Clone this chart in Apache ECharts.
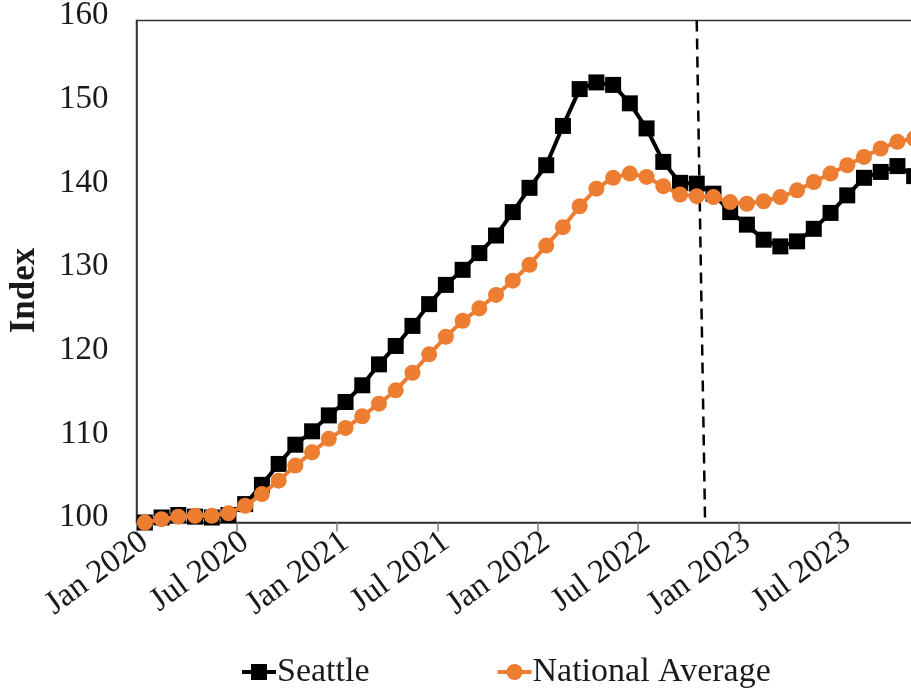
<!DOCTYPE html>
<html>
<head>
<meta charset="utf-8">
<script src="https://cdn.jsdelivr.net/npm/echarts@6/dist/echarts.min.js"></script>
<style>
  html, body { margin: 0; padding: 0; background: #fff; }
  #chart { width: 911px; height: 692px; }
</style>
</head>
<body>
<div id="chart"></div>
<script>
// Monthly index, Jan 2020 = 100
const months = [
  'Jan 2020','Feb 2020','Mar 2020','Apr 2020','May 2020','Jun 2020',
  'Jul 2020','Aug 2020','Sep 2020','Oct 2020','Nov 2020','Dec 2020',
  'Jan 2021','Feb 2021','Mar 2021','Apr 2021','May 2021','Jun 2021',
  'Jul 2021','Aug 2021','Sep 2021','Oct 2021','Nov 2021','Dec 2021',
  'Jan 2022','Feb 2022','Mar 2022','Apr 2022','May 2022','Jun 2022',
  'Jul 2022','Aug 2022','Sep 2022','Oct 2022','Nov 2022','Dec 2022',
  'Jan 2023','Feb 2023','Mar 2023','Apr 2023','May 2023','Jun 2023',
  'Jul 2023','Aug 2023','Sep 2023','Oct 2023','Nov 2023'
];

const seattle = [
  100.0, 100.6, 100.9, 100.7, 100.6, 100.9,
  102.2, 104.5, 107.0, 109.3, 110.9, 112.8,
  114.4, 116.4, 118.9, 121.1, 123.5, 126.1,
  128.4, 130.2, 132.2, 134.3, 137.1, 140.0,
  142.7, 147.4, 151.8, 152.6, 152.3, 150.1,
  147.1, 143.1, 140.6, 140.5, 139.3, 137.1,
  135.6, 133.8, 133.0, 133.6, 135.1, 137.0,
  139.1, 141.2, 141.9, 142.6, 141.4
];

const nationalAverage = [
  100.0, 100.4, 100.7, 100.8, 100.8, 101.1,
  102.0, 103.4, 105.0, 106.8, 108.4, 110.0,
  111.3, 112.7, 114.2, 115.8, 117.9, 120.1,
  122.2, 124.1, 125.6, 127.2, 128.9, 130.8,
  133.1, 135.3, 137.8, 139.9, 141.2, 141.7,
  141.3, 140.2, 139.2, 139.0, 138.9, 138.3,
  138.1, 138.4, 138.9, 139.7, 140.7, 141.7,
  142.7, 143.7, 144.7, 145.5, 145.9
];

// Dashed divider: month position (index) at top and bottom of the plot
const dividerMonthPos = [33, 33.5];
const dividerIndex = [160, 100];

const yTicks = { min: 100, max: 160, step: 10 };

const FONT = '"Liberation Serif", "Times New Roman", serif';
const TEXT = '#1a1a1a';

const chart = echarts.init(document.getElementById('chart'), null, { renderer: 'canvas' });

chart.setOption({
  animation: false,
  backgroundColor: '#fff',
  grid: {
    left: 136.5, top: 20.5, width: 786, height: 502,
    containLabel: false,
    outerBoundsMode: 'none',
    show: true, borderColor: '#333', borderWidth: 1.5, backgroundColor: 'transparent'
  },
  legend: {
    top: 650,
    left: 235,
    itemGap: 126,
    itemWidth: 34,
    itemHeight: 20,
    lineStyle: { width: 4 },
    textStyle: { fontFamily: FONT, fontSize: 34, color: TEXT, padding: [0, 0, 0, -4] },
    data: ['Seattle', 'National Average']
  },
  xAxis: [
    {
      type: 'category',
      data: months,
      boundaryGap: true,
      axisLine: { onZero: false, lineStyle: { color: '#333', width: 1.5 } },
      axisTick: { show: true, interval: 5, length: 9, lineStyle: { color: '#808080', width: 1.5 } },
      axisLabel: {
        interval: 5,
        rotate: 36,
        margin: 16,
        fontFamily: FONT,
        fontSize: 33,
        color: TEXT
      },
      splitLine: { show: false }
    },
    {
      type: 'value',
      min: -0.5,
      max: months.length - 0.5,
      show: false
    }
  ],
  yAxis: {
    type: 'value',
    min: yTicks.min,
    max: yTicks.max,
    interval: yTicks.step,
    name: 'Index',
    nameLocation: 'middle',
    nameGap: 94,
    nameTextStyle: { fontFamily: FONT, fontSize: 35, fontWeight: 'bold', color: TEXT, padding: [0, 38, 0, 0] },
    axisLine: { show: true, onZero: false, lineStyle: { color: '#333', width: 1.5 } },
    axisTick: { show: false },
    splitLine: { show: false },
    axisLabel: {
      margin: 28,
      fontFamily: FONT,
      fontSize: 33,
      color: TEXT,
      verticalAlign: 'bottom',
      lineHeight: 10
    }
  },
  series: [
    {
      name: 'Seattle',
      type: 'line',
      data: seattle,
      symbol: 'rect',
      symbolSize: 16,
      showAllSymbol: true,
      color: '#000',
      lineStyle: { color: '#000', width: 4 },
      itemStyle: { color: '#000' },
      z: 2
    },
    {
      name: 'National Average',
      type: 'line',
      data: nationalAverage,
      symbol: 'circle',
      symbolSize: 16,
      showAllSymbol: true,
      color: '#ED7D31',
      lineStyle: { color: '#ED7D31', width: 4 },
      itemStyle: { color: '#ED7D31' },
      z: 3
    },
    {
      name: 'divider',
      type: 'line',
      xAxisIndex: 1,
      data: dividerMonthPos.map((m, i) => [m, dividerIndex[i]]),
      symbol: 'none',
      lineStyle: { color: '#000', width: 2.5, type: [11, 7] },
      silent: true,
      z: 1
    }
  ]
});
</script>
</body>
</html>
